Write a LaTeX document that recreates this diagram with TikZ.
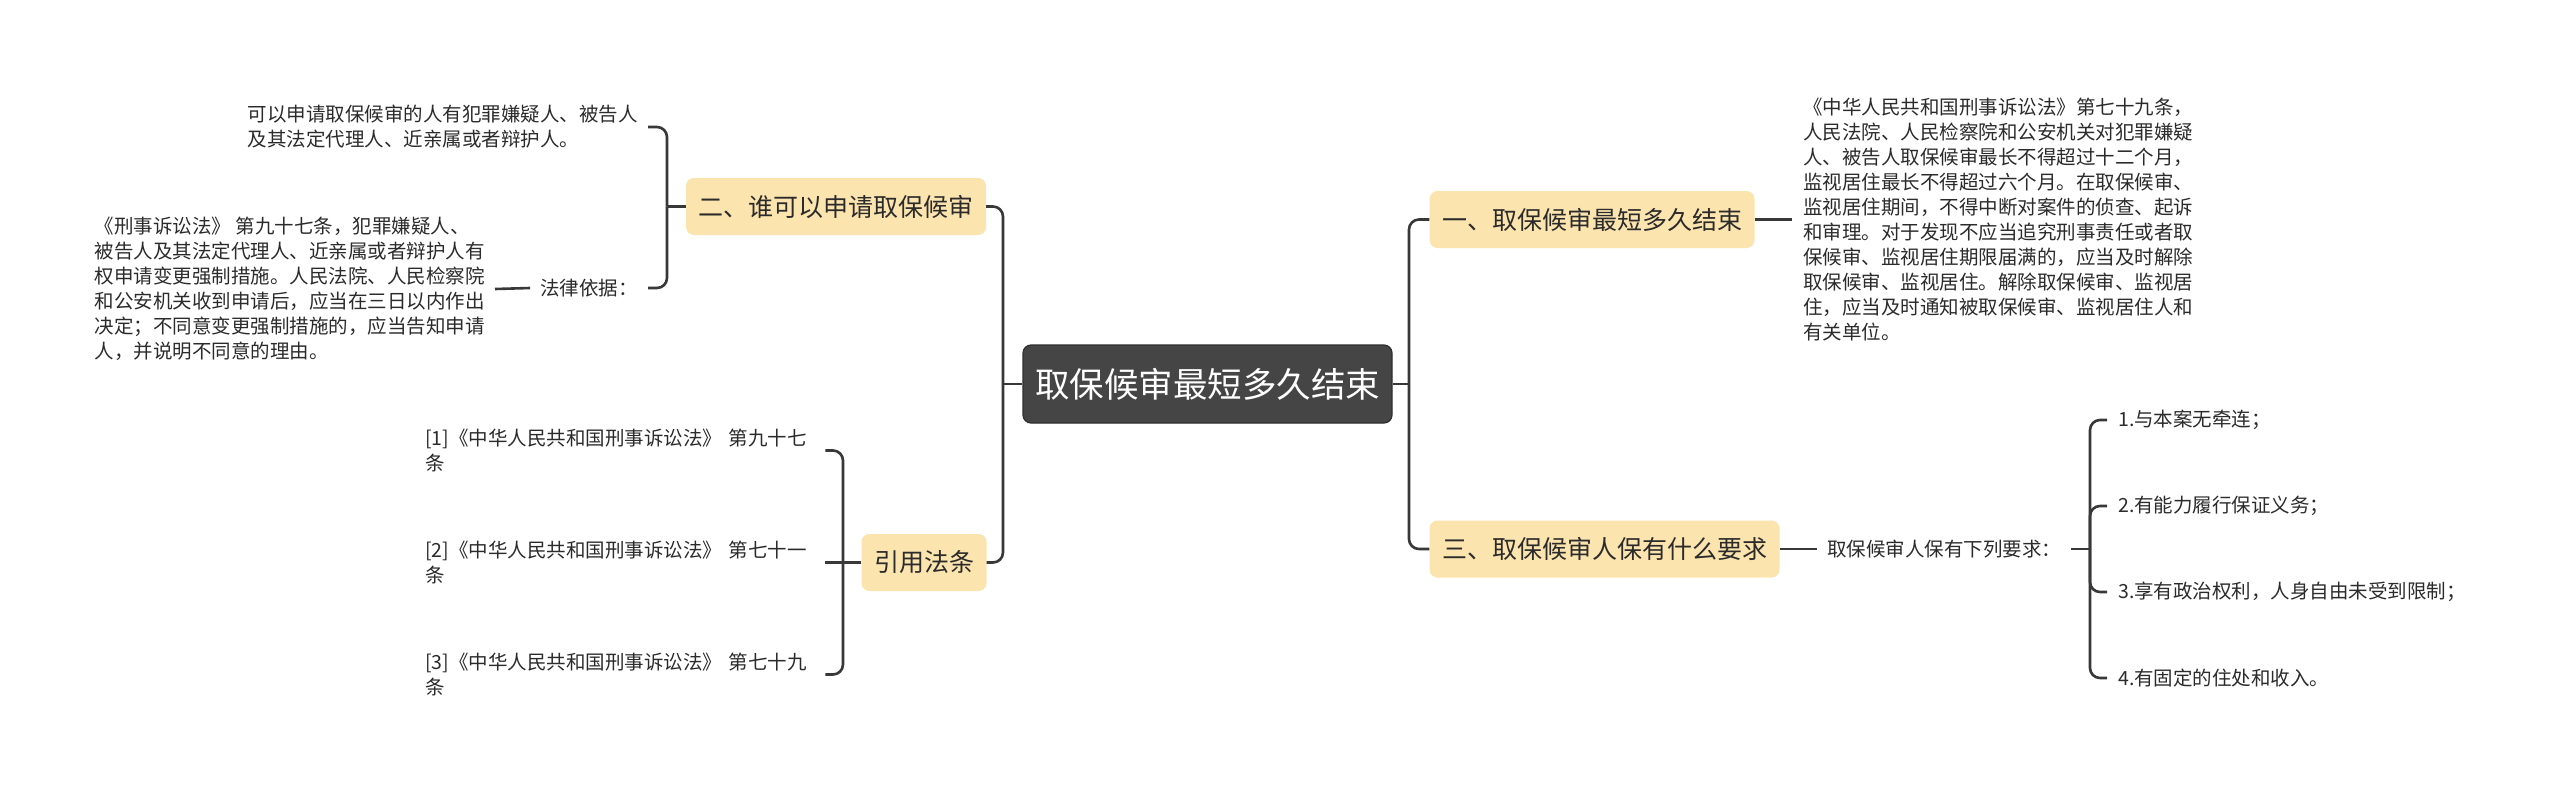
\documentclass[tikz,border=0pt]{standalone}
\usepackage{fontspec}
\setmainfont{Noto Sans CJK SC}
\definecolor{linec}{HTML}{383838}
\definecolor{rootc}{HTML}{454545}
\definecolor{rootb}{HTML}{2E2E2E}
\definecolor{topicc}{HTML}{FCE4AF}
\definecolor{txt}{HTML}{2B2B2B}
\newcommand{\mmroot}{\fontsize{34.5}{40}\selectfont}
\newcommand{\mmhead}{\fontsize{25}{30}\selectfont}
\newcommand{\mmbody}{\fontsize{19.5}{25}\selectfont}
\tikzset{
  conn/.style={draw=linec, line width=2.6, rounded corners=10},
  rootbox/.style={fill=rootc, draw=rootb, line width=1.2, rounded corners=8, text=white, font=\mmroot, minimum width=369, minimum height=78, inner sep=0},
  topic/.style={fill=topicc, rounded corners=8, text=txt, font=\mmhead, minimum height=57, inner xsep=12.5, inner ysep=0},
  leaf/.style={text=txt, font=\mmbody, align=left, inner xsep=10, inner ysep=2},
}
\begin{document}
\begin{tikzpicture}[x=1pt,y=-1pt]
\fill[white] (0,0) rectangle (2560,793);
\useasboundingbox (0,0) rectangle (2560,793);

% main nodes
\node[rootbox] (root) at (1207.5,384) {取保候审最短多久结束};
\node[topic] (b2) at (836,206.5) {二、谁可以申请取保候审};
\node[topic] (b4) at (924,562.5) {引用法条};
\node[topic] (b1) at (1592,219.5) {一、取保候审最短多久结束};
\node[topic] (b3) at (1604.5,549) {三、取保候审人保有什么要求};

% left leaves
\node[leaf, anchor=east] (t21) at (648,127) {可以申请取保候审的人有犯罪嫌疑人、被告人\\及其法定代理人、近亲属或者辩护人。};
\node[leaf, anchor=east] (t22) at (648,288) {法律依据：};
\node[leaf, anchor=east] (t23) at (495,289) {《刑事诉讼法》 第九十七条，犯罪嫌疑人、\\被告人及其法定代理人、近亲属或者辩护人有\\权申请变更强制措施。人民法院、人民检察院\\和公安机关收到申请后，应当在三日以内作出\\决定；不同意变更强制措施的，应当告知申请\\人，并说明不同意的理由。};

\node[leaf, anchor=west, text width=395, inner xsep=5] (c1) at (420,450.5) {[1]《中华人民共和国刑事诉讼法》 第九十七\\条};
\node[leaf, anchor=west, text width=395, inner xsep=5] (c2) at (420,562.5) {[2]《中华人民共和国刑事诉讼法》 第七十一\\条};
\node[leaf, anchor=west, text width=395, inner xsep=5] (c3) at (420,674.5) {[3]《中华人民共和国刑事诉讼法》 第七十九\\条};

% right leaves
\node[leaf, anchor=west, inner xsep=11] (t11) at (1792,219.5) {《中华人民共和国刑事诉讼法》第七十九条，\\人民法院、人民检察院和公安机关对犯罪嫌疑\\人、被告人取保候审最长不得超过十二个月，\\监视居住最长不得超过六个月。在取保候审、\\监视居住期间，不得中断对案件的侦查、起诉\\和审理。对于发现不应当追究刑事责任或者取\\保候审、监视居住期限届满的，应当及时解除\\取保候审、监视居住。解除取保候审、监视居\\住，应当及时通知被取保候审、监视居住人和\\有关单位。};
\node[leaf, anchor=west] (t31) at (1817,549) {取保候审人保有下列要求：};
\node[leaf, anchor=west, inner xsep=11] (r1) at (2107,420) {1.与本案无牵连；};
\node[leaf, anchor=west, inner xsep=11] (r2) at (2107,506) {2.有能力履行保证义务；};
\node[leaf, anchor=west, inner xsep=11] (r3) at (2107,592) {3.享有政治权利，人身自由未受到限制；};
\node[leaf, anchor=west, inner xsep=11] (r4) at (2107,678) {4.有固定的住处和收入。};

% junctions
\coordinate (lj) at (1003,384);
\coordinate (rj) at (1409,384);
\coordinate (lb2) at (667,206.5);
\coordinate (lb4) at (843,562.5);
\coordinate (rb3) at (2090,549);

% connectors
\draw[conn] (root.west) -- (lj);
\draw[conn] (lj) |- (b2.east);
\draw[conn] (lj) |- (b4.east);
\draw[conn] (root.east) -- (rj);
\draw[conn] (rj) |- (b1.west);
\draw[conn] (rj) |- (b3.west);

\draw[conn] (b2.west) -- (lb2);
\draw[conn] (lb2) |- (t21.east);
\draw[conn] (lb2) |- (t22.east);
\draw[conn] (t22.west) -- (t23.east);

\draw[conn] (b4.west) -- (lb4);
\draw[conn] (lb4) |- (c1.east);
\draw[conn] (lb4) -- (c2.east);
\draw[conn] (lb4) |- (c3.east);

\draw[conn] (b1.east) -- (t11.west);
\draw[conn] (b3.east) -- (t31.west);
\draw[conn] (t31.east) -- (rb3);
\draw[conn] (rb3) |- (r1.west);
\draw[conn] (rb3) |- (r2.west);
\draw[conn] (rb3) |- (r3.west);
\draw[conn] (rb3) |- (r4.west);
\end{tikzpicture}
\end{document}
